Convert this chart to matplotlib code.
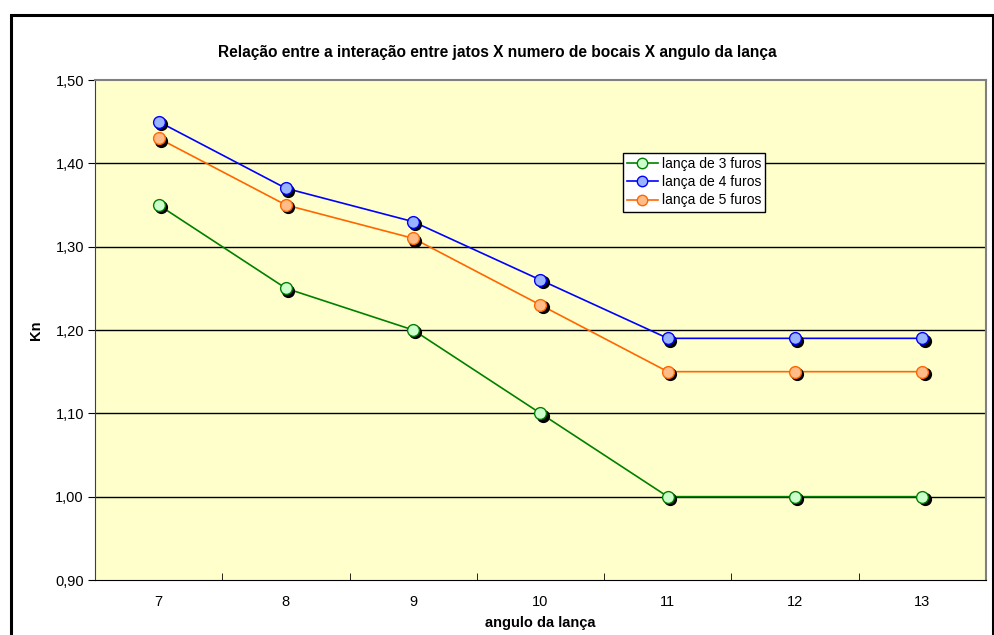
import matplotlib
matplotlib.use("Agg")
import matplotlib.pyplot as plt
import matplotlib.transforms as mtransforms
from matplotlib.patches import Rectangle
from matplotlib.lines import Line2D

angles = [7, 8, 9, 10, 11, 12, 13]
kn_3_furos = [1.35, 1.25, 1.20, 1.10, 1.00, 1.00, 1.00]
kn_4_furos = [1.45, 1.37, 1.33, 1.26, 1.19, 1.19, 1.19]
kn_5_furos = [1.43, 1.35, 1.31, 1.23, 1.15, 1.15, 1.15]
series_labels = ["lança de 3 furos", "lança de 4 furos", "lança de 5 furos"]
y_ticks = [0.90, 1.00, 1.10, 1.20, 1.30, 1.40, 1.50]

plt.rcParams['font.family'] = ['Liberation Sans', 'DejaVu Sans']

fig = plt.figure(figsize=(9.95, 6.35), dpi=100)
W, H = 995, 635

# outer chart frame
fig.patches.append(Rectangle((11 / W, -0.05), (993 - 11) / W, (H - 15) / H + 0.05,
                             transform=fig.transFigure, fill=False,
                             edgecolor='black', linewidth=2.2))

ax = fig.add_axes([95 / W, 1 - 580 / H, (986 - 95) / W, (580 - 80) / H])
ax.set_facecolor('#ffffcc')

x = list(range(len(angles)))
styles = [
    (kn_3_furos, '#008000', '#ccffcc'),
    (kn_4_furos, '#0000ff', '#99b3ff'),
    (kn_5_furos, '#ff6600', '#ffbb88'),
]

shadow = mtransforms.offset_copy(ax.transData, fig=fig, x=2.2, y=-2.2, units='dots')
for vals, lc, fc in styles:
    ax.plot(x, vals, color=lc, linewidth=1.2, zorder=3)
    ax.plot(x, vals, linestyle='none', marker='o', markersize=8.5,
            markerfacecolor='black', markeredgecolor='black', transform=shadow, zorder=4)
    ax.plot(x, vals, linestyle='none', marker='o', markersize=8.5,
            markerfacecolor=fc, markeredgecolor=lc, markeredgewidth=1.0, zorder=5)

ax.set_xlim(-0.5, len(angles) - 0.5)
ax.set_ylim(0.90, 1.50)
ax.set_yticks(y_ticks)
ax.set_yticklabels([f"{v:.2f}".replace('.', ',') for v in y_ticks])
ax.set_xticks(x)
ax.set_xticklabels([str(a) for a in angles])
ax.set_xticks([i - 0.5 for i in range(len(angles) + 1)], minor=True)
ax.tick_params(axis='x', which='major', length=0, pad=11, labelsize=10.5)
ax.tick_params(axis='x', which='minor', length=5, direction='in', color='black')
ax.tick_params(axis='y', length=5, direction='out', labelsize=10.5, pad=3)

for v in y_ticks[1:-1]:
    ax.axhline(v, color='black', linewidth=1.0, zorder=1)

for side in ['top', 'right']:
    ax.spines[side].set_color('#808080')
    ax.spines[side].set_linewidth(1.5)
ax.spines['left'].set_color('#404040')
ax.spines['bottom'].set_color('black')

ax.set_xlabel("angulo da lança", fontsize=10.5, fontweight='bold', labelpad=5)
ax.set_ylabel("Kn", fontsize=10.5, fontweight='bold', labelpad=9)
fig.text(497 / W, 1 - 52 / H,
         "Relação entre a interação entre jatos X numero de bocais X angulo da lança",
         ha='center', va='center', fontsize=11.2, fontweight='bold')

handles = [Line2D([0], [0], color=lc, linewidth=1.2, marker='o', markersize=7.5,
                  markerfacecolor=fc, markeredgecolor=lc)
           for _, lc, fc in styles]
leg = ax.legend(handles, series_labels, loc='upper left',
                bbox_to_anchor=((623 - 95) / (986 - 95), 1 - (153 - 80) / 500),
                frameon=True, fancybox=False, fontsize=10, handlelength=2.2,
                handletextpad=0.3, borderpad=0.3, labelspacing=0.3,
                borderaxespad=0)
leg.get_frame().set_edgecolor('black')
leg.get_frame().set_facecolor('white')
leg.get_frame().set_alpha(1)
leg.get_frame().set_linewidth(1.0)

fig.savefig("out.png", dpi=100, facecolor='white')
